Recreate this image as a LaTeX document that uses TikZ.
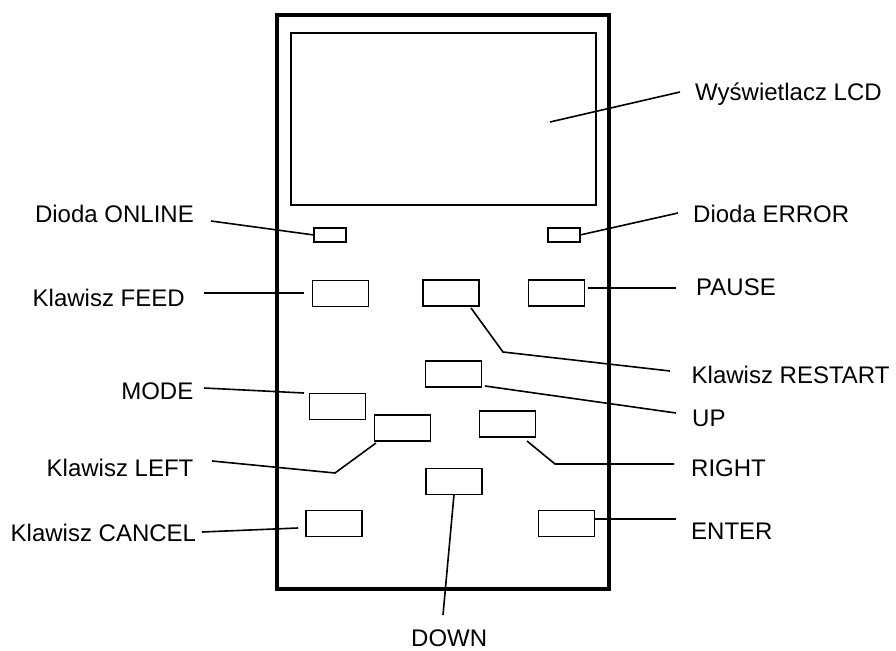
\documentclass[tikz,border=0pt]{standalone}
\usepackage{fontspec}
\setmainfont{Liberation Sans}
\begin{document}
\begin{tikzpicture}[x=1pt,y=-1pt,
  frame/.style={draw=black,line width=3.2pt},
  screen/.style={draw=black,line width=1.8pt},
  keybox/.style={draw=black,line width=1.7pt,minimum width=56pt,minimum height=26pt,inner sep=0pt,outer sep=0pt},
  ledbox/.style={draw=black,line width=1.7pt,minimum width=32pt,minimum height=14pt,inner sep=0pt,outer sep=0pt},
  lbl/.style={inner sep=0pt,font=\fontsize{24}{28}\selectfont},
  leader/.style={draw=black,line width=1.6pt}]
\useasboundingbox (0,0) rectangle (896,650);
% body
\draw[frame] (277,15) rectangle (609,589);
\node[screen,minimum width=305pt,minimum height=172pt,inner sep=0pt,outer sep=0pt] (lcd) at (443.5,119) {};
% LEDs
\node[ledbox] (online) at (330,235) {};
\node[ledbox] (error) at (564,235) {};
% keys
\node[keybox] (feed) at (340.5,293.5) {};
\node[keybox] (restart) at (451,293) {};
\node[keybox] (pause) at (556.5,293) {};
\node[keybox] (up) at (453.5,374) {};
\node[keybox] (mode) at (337.5,406.5) {};
\node[keybox] (left) at (402.5,428) {};
\node[keybox] (right) at (507.5,424) {};
\node[keybox] (down) at (454,481.5) {};
\node[keybox] (enter) at (566.5,523.5) {};
\node[keybox] (cancel) at (334,523.5) {};
% labels
\node[lbl,anchor=base west] (tlcd) at (695,101) {Wyświetlacz LCD};
\node[lbl,anchor=base west] (terror) at (693,222.5) {Dioda ERROR};
\node[lbl,anchor=base east] (tonline) at (194,222.5) {Dioda ONLINE};
\node[lbl,anchor=base west] (tfeed) at (32.5,306) {Klawisz FEED};
\node[lbl,anchor=base west] (tpause) at (696,295) {PAUSE};
\node[lbl,anchor=base west] (trestart) at (691.5,383.5) {Klawisz RESTART};
\node[lbl,anchor=base west] (tup) at (692,426) {UP};
\node[lbl,anchor=base east] (tmode) at (193.5,399.5) {MODE};
\node[lbl,anchor=base west] (tleft) at (46.5,476) {Klawisz LEFT};
\node[lbl,anchor=base west] (tright) at (691,476.5) {RIGHT};
\node[lbl,anchor=base west] (tenter) at (691,539.5) {ENTER};
\node[lbl,anchor=base west] (tcancel) at (10.5,541.5) {Klawisz CANCEL};
\node[lbl,anchor=base west] (tdown) at (411,646.5) {DOWN};
% leader end points
\coordinate (clcd1) at (550,122);
\coordinate (clcd2) at (680,92);
\coordinate (conl) at (211,221);
\coordinate (cerr) at (678,213);
\coordinate (cfeed1) at (204,293);
\coordinate (cfeed2) at (304,293);
\coordinate (cpause1) at (588,288);
\coordinate (cpause2) at (676,288);
\coordinate (crst1) at (471,308);
\coordinate (crst2) at (503,352);
\coordinate (crst3) at (670,371);
\coordinate (cup1) at (485,386);
\coordinate (cup2) at (676,413);
\coordinate (cmode1) at (204,388);
\coordinate (cmode2) at (304,393);
\coordinate (cleft1) at (376,443);
\coordinate (cleft2) at (335,473);
\coordinate (cleft3) at (212,461);
\coordinate (cright1) at (527,441);
\coordinate (cright2) at (555,464);
\coordinate (cright3) at (674,464);
\coordinate (cdown1) at (453,495);
\coordinate (cdown2) at (443,615);
\coordinate (center) at (676,519);
\coordinate (ccan1) at (202,532);
\coordinate (ccan2) at (298,528);
% leaders
\draw[leader] (clcd1) -- (clcd2);
\draw[leader] (conl) -- (online.west);
\draw[leader] (error.east) -- (cerr);
\draw[leader] (cfeed1) -- (cfeed2);
\draw[leader] (cpause1) -- (cpause2);
\draw[leader] (crst1) -- (crst2) -- (crst3);
\draw[leader] (cup1) -- (cup2);
\draw[leader] (cmode1) -- (cmode2);
\draw[leader] (cleft1) -- (cleft2) -- (cleft3);
\draw[leader] (cright1) -- (cright2) -- (cright3);
\draw[leader] (down.south) -- (cdown2);
\draw[leader] (enter.east |- center) -- (center);
\draw[leader] (ccan1) -- (ccan2);
\end{tikzpicture}
\end{document}
